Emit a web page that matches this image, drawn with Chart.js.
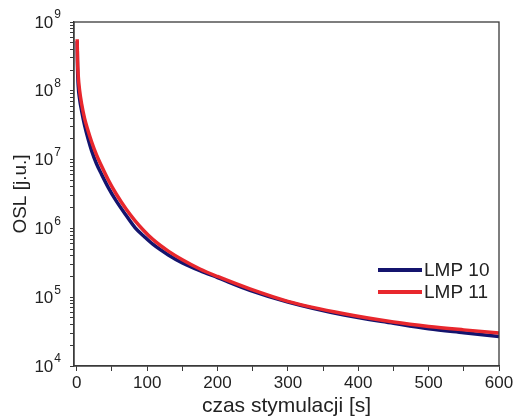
<!DOCTYPE html>
<html>
<head>
<meta charset="utf-8">
<script src="https://cdn.jsdelivr.net/npm/chart.js@4"></script>
<style>
    html, body { margin: 0; padding: 0; background: #fff; }
    #wrap { width: 516px; height: 419px; }
</style>
</head>
<body>
<div id="wrap"><canvas id="myChart" width="516" height="419"></canvas></div>
<script>
'use strict';

// values
let seriesNames = ['LMP 10', 'LMP 11'];

let timeLmp10 = [0.5, 1, 2, 4, 7, 11, 16, 21, 28, 35, 45, 56, 70, 83, 95, 108, 130, 150, 175, 200, 246, 300, 380, 450, 500, 550, 600];
let oslLmp10 = [5.25e8, 2.24e8, 1.20e8, 7.59e7, 5.01e7, 3.16e7, 2.0e7, 1.35e7, 8.71e6, 6.17e6, 3.89e6, 2.51e6, 1.55e6, 1.02e6,
    7.76e5, 5.89e5, 4.12e5, 3.16e5, 2.43e5, 1.93e5, 1.26e5, 8.51e4, 5.50e4, 4.17e4, 3.47e4, 3.05e4, 2.69e4];

let timeLmp11 = [0.5, 1, 2, 4, 7, 11, 16, 21, 28, 35, 45, 56, 70, 82, 95, 108, 130, 150, 175, 200, 246, 300, 380, 450, 500, 550, 600];
let oslLmp11 = [5.62e8, 2.82e8, 1.66e8, 1.0e8, 6.31e7, 3.98e7, 2.63e7, 1.82e7, 1.17e7, 8.13e6, 5.01e6, 3.16e6, 1.91e6, 1.32e6,
    9.33e5, 6.92e5, 4.68e5, 3.51e5, 2.57e5, 2.0e5, 1.32e5, 8.71e4, 5.75e4, 4.37e4, 3.76e4, 3.35e4, 3.02e4];

let xTicks = [0, 50, 100, 150, 200, 250, 300, 350, 400, 450, 500, 550, 600];
let xLabels = ['0', '', '100', '', '200', '', '300', '', '400', '', '500', '', '600'];
let yDecades = [1e4, 1e5, 1e6, 1e7, 1e8, 1e9];
let yExponents = ['4', '5', '6', '7', '8', '9'];

let xTitle = 'czas stymulacji [s]';
let yTitle = 'OSL [j.u.]';

let font = 'Liberation Sans, Arial, sans-serif';
let axisColor = '#3a3a3a';
let textColor = '#222';


function toPoints(xs, ys) {
    let pts = [];
    for (let i = 0; i < xs.length; i++) {
        pts.push({ x: xs[i], y: ys[i] });
    }
    return pts;
}

// all y tick positions: 1..9 times each decade
function yTickValues() {
    let vals = [];
    for (let i = 0; i < yDecades.length; i++) {
        vals.push(yDecades[i]);
        if (i < yDecades.length - 1) {
            for (let m = 2; m <= 9; m++) {
                vals.push(yDecades[i] * m);
            }
        }
    }
    return vals;
}

// frame on top/right, 10^n labels, legend in lower right of plot
let framePlugin = {
    id: 'frame',
    afterDraw(chart) {
        let ctx = chart.ctx;
        let a = chart.chartArea;
        ctx.save();
        ctx.strokeStyle = axisColor;
        ctx.lineWidth = 1.3;
        ctx.strokeRect(a.left, a.top, a.right - a.left, a.bottom - a.top);

        // y tick labels with real superscripts
        let yScale = chart.scales.y;
        ctx.fillStyle = textColor;
        ctx.textBaseline = 'middle';
        for (let i = 0; i < yDecades.length; i++) {
            let y = yScale.getPixelForValue(yDecades[i]);
            ctx.font = '12px ' + font;
            let ew = ctx.measureText(yExponents[i]).width;
            let right = a.left - 13;
            ctx.textAlign = 'right';
            ctx.fillText(yExponents[i], right, y - 7);
            ctx.font = '17px ' + font;
            ctx.fillText('10', right - ew - 1, y + 1);
        }

        let ds = chart.data.datasets;
        let y0 = a.top + 248;
        for (let i = 0; i < ds.length; i++) {
            let y = y0 + i * 22;
            ctx.strokeStyle = ds[i].borderColor;
            ctx.lineWidth = 4;
            ctx.beginPath();
            ctx.moveTo(a.left + 304, y);
            ctx.lineTo(a.left + 348, y);
            ctx.stroke();
            ctx.fillStyle = textColor;
            ctx.font = '19px ' + font;
            ctx.textAlign = 'left';
            ctx.fillText(ds[i].label, a.left + 350, y + 1);
        }
        ctx.restore();
    }
};


let ctx = document.getElementById('myChart').getContext('2d');

let myChart = new Chart(ctx, {
    type: 'line',
    data: {
        datasets: [{
            label: seriesNames[0],
            data: toPoints(timeLmp10, oslLmp10),
            borderColor: '#14146e',
            borderWidth: 3.5,
            pointRadius: 0,
            cubicInterpolationMode: 'monotone',
            order: 1
        }, {
            label: seriesNames[1],
            data: toPoints(timeLmp11, oslLmp11),
            borderColor: '#e8272d',
            borderWidth: 3.5,
            pointRadius: 0,
            cubicInterpolationMode: 'monotone',
            order: 0
        }]
    },
    options: {
        responsive: false,
        animation: false,
        layout: { padding: { left: 9, right: 17, top: 22, bottom: 0 } },
        plugins: {
            legend: { display: false },
            tooltip: { enabled: false }
        },
        scales: {
            x: {
                type: 'linear',
                min: -4,
                max: 600,
                afterBuildTicks: function (scale) {
                    scale.ticks = xTicks.map(v => ({ value: v }));
                },
                afterFit: function (scale) { scale.height = 53; },
                ticks: {
                    autoSkip: false,
                    maxRotation: 0,
                    padding: 2,
                    color: textColor,
                    font: { family: font, size: 17 },
                    callback: function (value) {
                        let i = xTicks.indexOf(value);
                        return i >= 0 ? xLabels[i] : '';
                    }
                },
                grid: {
                    drawOnChartArea: false,
                    drawTicks: true,
                    tickLength: 5,
                    color: axisColor
                },
                border: { color: axisColor, width: 1.3 },
                title: {
                    display: true,
                    text: xTitle,
                    color: textColor,
                    padding: { top: 0, bottom: 0 },
                    font: { family: font, size: 21 }
                }
            },
            y: {
                type: 'logarithmic',
                min: 1e4,
                max: 1e9,
                afterBuildTicks: function (scale) {
                    scale.ticks = yTickValues().map(v => ({ value: v }));
                },
                afterFit: function (scale) { scale.width = 65; },
                ticks: {
                    autoSkip: false,
                    padding: 4,
                    color: textColor,
                    font: { family: font, size: 17 },
                    callback: function () { return ''; }
                },
                grid: {
                    drawOnChartArea: false,
                    drawTicks: true,
                    tickLength: 4,
                    color: axisColor
                },
                border: { color: axisColor, width: 1.3 },
                title: {
                    display: true,
                    text: yTitle,
                    color: textColor,
                    padding: { top: 0, bottom: 0 },
                    font: { family: font, size: 19 }
                }
            }
        }
    },
    plugins: [framePlugin]
});
</script>
</body>
</html>
